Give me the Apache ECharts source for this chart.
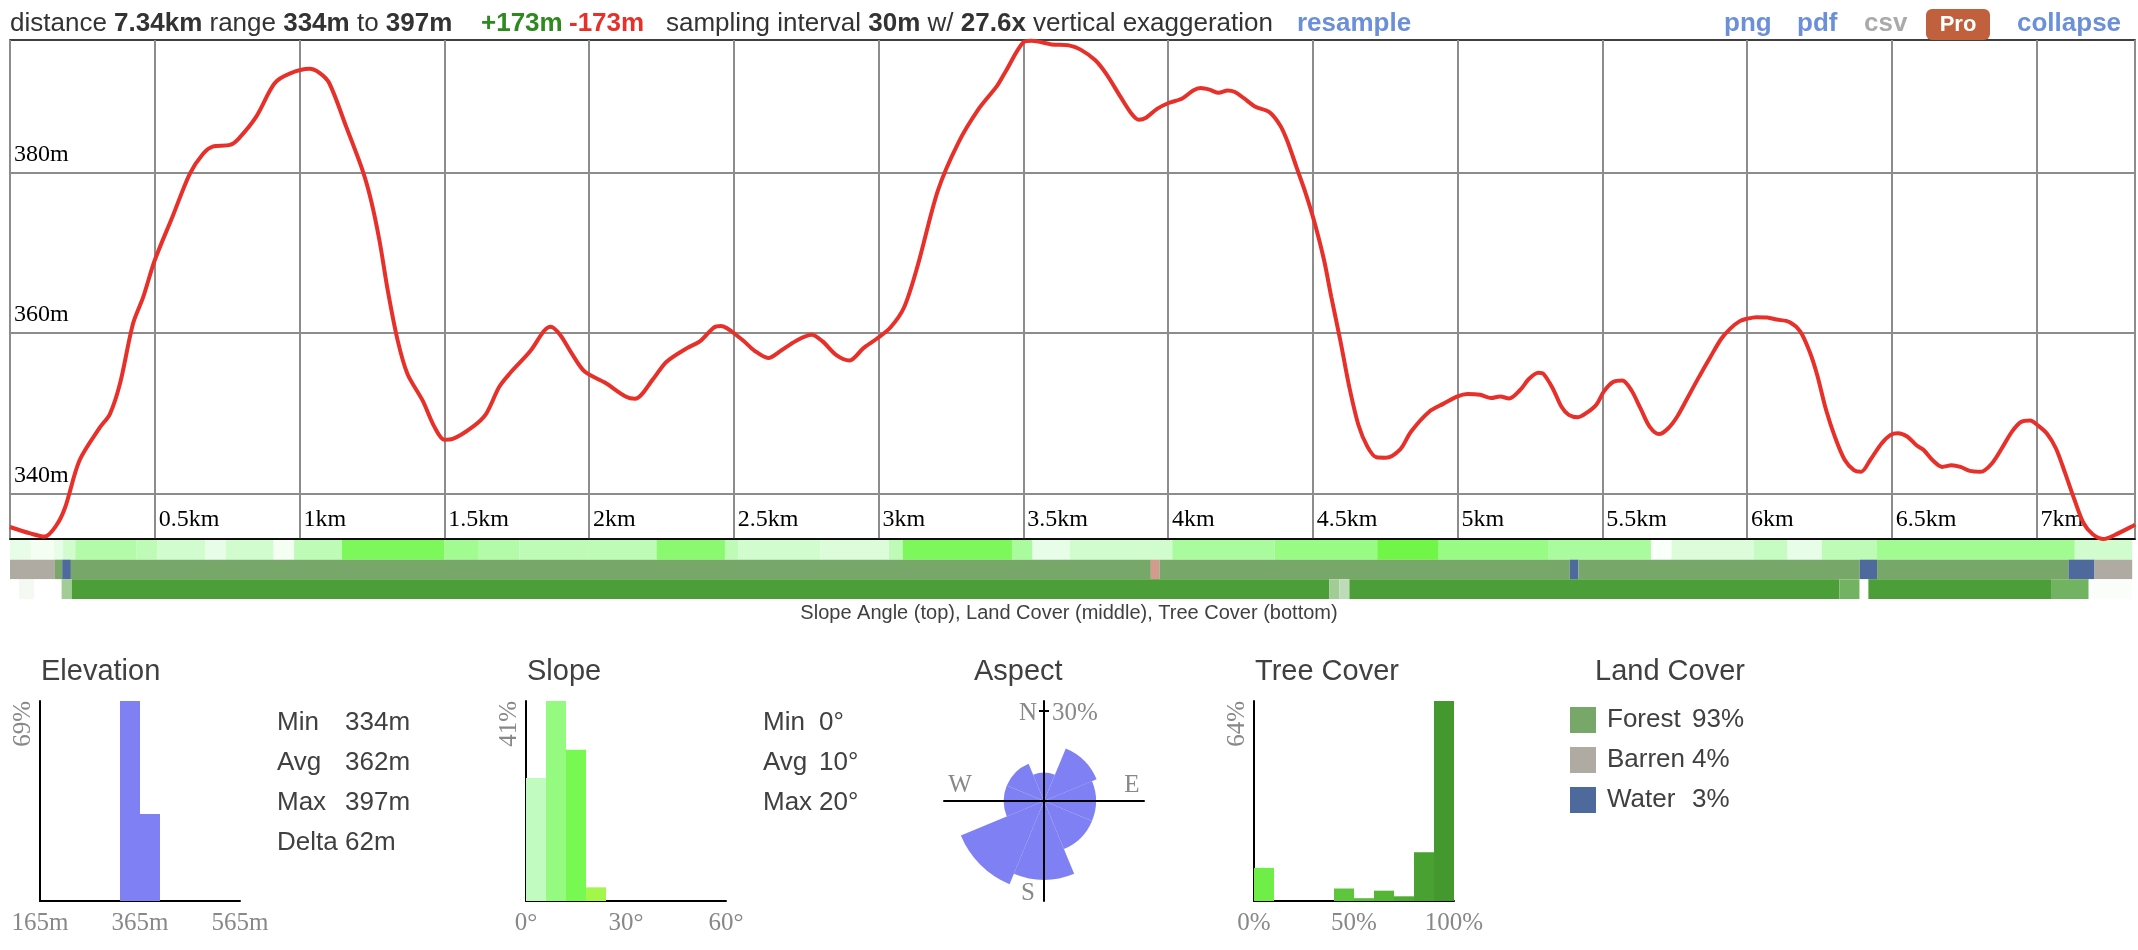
<!DOCTYPE html>
<html><head><meta charset="utf-8">
<script src="https://cdn.jsdelivr.net/npm/echarts@6/dist/echarts.min.js"></script>
<style>html,body{margin:0;padding:0;background:#fff}#c{width:2138px;height:950px}</style>
</head><body><div id="c"></div>
<script>
// ---------------- DATA ----------------
const profileKm = [0.00,0.07,0.12,0.16,0.19,0.24,0.31,0.345,0.38,0.425,0.46,0.50,0.563,0.621,0.667,0.70,0.76,0.79,0.85,0.914,0.966,1.034,1.069,1.103,1.161,1.218,1.247,1.276,1.305,1.339,1.373,1.425,1.466,1.50,1.529,1.598,1.644,1.69,1.727,1.798,1.845,1.868,1.90,1.938,1.985,2.056,2.126,2.159,2.22,2.267,2.337,2.384,2.431,2.455,2.525,2.572,2.619,2.666,2.713,2.769,2.806,2.853,2.90,2.947,2.994,3.041,3.088,3.135,3.205,3.276,3.346,
  3.41,3.441,3.5,3.529,3.598,3.661,3.698,3.748,3.786,3.836,3.874,3.899,3.924,3.962,4.0,4.049,4.087,4.112,4.143,4.175,4.206,4.231,4.263,4.3,4.35,4.388,4.413,4.444,4.476,4.507,4.539,4.564,4.595,4.626,4.658,4.689,4.72,4.752,4.802,4.839,4.902,4.952,5.0,5.034,5.078,5.116,5.147,5.178,5.216,5.247,5.279,5.297,5.329,5.359,5.384,5.416,5.448,5.48,5.505,5.537,5.569,5.6,5.632,5.664,5.696,5.727,5.759,5.797,5.835,5.873,5.911,5.943,5.975,6.0,6.032,6.07,6.102,6.146,6.184,6.216,6.242,6.273,6.305,6.337,6.369,6.394,6.426,6.464,6.496,6.521,6.553,6.585,6.61,6.642,6.674,6.706,6.737,6.769,6.807,6.845,6.883,6.915,6.946,6.978,7.004,7.035,7.067,7.099,7.131,7.162,7.194,7.232,7.27,7.331,7.34];
const profileElev = [335.8,335.0,334.6,336.0,338.2,344.1,348.2,349.9,353.7,361.2,364.5,369.1,374.7,379.9,382.4,383.3,383.5,384.3,387.0,391.2,392.4,393.0,392.5,391.2,385.8,380.3,376.6,371.6,365.3,359.1,354.9,351.6,348.3,346.7,346.8,348.3,349.9,353.3,355.0,357.8,360.3,360.8,359.8,357.6,355.2,353.8,352.1,351.8,354.2,356.4,358.1,359.0,360.7,360.9,359.3,357.8,356.9,357.9,359.0,359.8,359.0,357.3,356.6,358.1,359.3,360.7,363.2,368.4,377.8,383.8,388.0,
  390.9,392.8,396.3,396.5,396.05,395.9,395.4,394.1,392.4,389.5,387.4,386.65,386.9,388.0,388.7,389.3,390.3,390.6,390.4,390.0,390.3,390.1,389.3,388.3,387.6,385.9,383.9,380.7,377.4,373.7,369.1,364.5,359.1,353.3,348.5,345.8,344.5,344.45,345.5,347.7,350.2,351.2,352.1,352.4,352.3,351.9,352.1,351.85,352.9,354.3,355.05,354.9,353.1,350.8,349.8,349.5,350.1,351.1,352.7,353.9,354.1,352.9,350.6,348.3,347.4,348.1,349.6,352.1,354.6,357.0,359.3,360.6,361.5,361.8,362.0,361.95,361.7,361.4,360.2,357.7,354.8,350.4,346.9,344.2,342.9,342.7,344.2,346.2,347.3,347.5,347.1,346.0,345.4,344.1,343.3,343.5,343.3,342.8,342.7,343.7,345.8,347.7,348.9,349.1,348.5,347.5,345.6,342.5,339.2,336.3,334.9,334.3,334.8,335.9,336.1];
const elevGridLines = [340, 360, 380];

// strips: breakpoints (km) and value per interval
const slopeBreaks = [0,0.072,0.15,0.183,0.225,0.437,0.508,0.673,0.744,0.909,0.98,1.145,1.499,1.617,1.758,1.994,2.23,2.466,2.513,2.796,3.032,3.079,3.456,3.527,3.655,4.009,4.362,4.716,4.928,5.305,5.66,5.731,6.014,6.131,6.249,6.438,7.122,7.32];
const slopeDeg    = [2,1,2,4,7,6,4,2,4,1,6,14,9,7,6,6,12,6,4,3,6,14,8,2,4,8,10,16,10,8,0.5,3,5,2,6,9,4];
const treeBreaks = [0,0.031,0.083,0.178,0.213,4.55,4.585,4.62,6.31,6.38,6.41,7.04,7.17,7.32];
const treePct    = [0,6,0,50,95,50,35,95,75,0,95,75,2];
const landBreaks = [0,0.155,0.18,0.21,3.935,3.965,5.38,5.41,6.38,6.44,7.10,7.19,7.32];
const landClass  = ['Barren','Forest','Water','Forest','Other','Forest','Water','Forest','Water','Forest','Water','Barren'];

// histograms
const elevBinLo = [325, 365];
const elevBinHi = [365, 405];
const elevBinPct = [69, 30];
const elevAxis = [165, 365, 565];
const slopeBinLo = [0, 6, 12, 18];
const slopeBinHi = [6, 12, 18, 24];
const slopeBinPct = [25.2, 41, 31, 2.8];
const slopeAxis = [0, 30, 60];
const treeBinLo = [0, 40, 50, 60, 70, 80, 90];
const treeBinHi = [10, 50, 60, 70, 80, 90, 100];
const treeBinPct = [10.6, 4.0, 0.9, 3.3, 1.5, 15.6, 64];
const treeAxis = [0, 50, 100];

const aspectDirs = ['N','NE','E','SE','S','SW','W','NW'];
const aspectPct  = [3, 12, 10, 10, 23, 30, 6, 6];
const aspectRefPct = 30;

const landNames = ['Forest','Barren','Water'];
const landPct   = [93, 4, 3];

const elevStatNames = ['Min','Avg','Max','Delta'];
const elevStatVals  = ['334m','362m','397m','62m'];
const slopeStatNames = ['Min','Avg','Max'];
const slopeStatVals  = ['0°','10°','20°'];

// ---------------- STYLE ----------------
const SANS = '"Liberation Sans", Arial, Helvetica, sans-serif';
const SERIF = '"Liberation Serif", "Times New Roman", serif';
const TXT = '#404040';
const landColors = {Forest:'#78a76a', Barren:'#afaba3', Water:'#4e6a9c', Other:'#d29b8b'};
const slopeBinColors = ['#c2fbc0','#94fb80','#78f952','#a2f74a'];
const treeBinColors = ['#70ee48','#5ec63c','#5abd39','#55b636','#4fac33','#48a130','#43992d'];
const roseColor = '#8080f5';

function mix(c1, c2, t) {
  const a = parseInt(c1.slice(1),16), b = parseInt(c2.slice(1),16);
  const r = Math.round(((a>>16)&255)*(1-t)+((b>>16)&255)*t);
  const g = Math.round(((a>>8)&255)*(1-t)+((b>>8)&255)*t);
  const bl = Math.round((a&255)*(1-t)+(b&255)*t);
  return 'rgb('+r+','+g+','+bl+')';
}
function slopeColor(d) {
  const stops = [[0,'#ffffff'],[5,'#c6fbc2'],[10,'#98fb84'],[16,'#70f646'],[30,'#60e030']];
  for (let i=1;i<stops.length;i++) if (d<=stops[i][0]) {
    return mix(stops[i-1][1], stops[i][1], (d-stops[i-1][0])/(stops[i][0]-stops[i-1][0]));
  }
  return stops[stops.length-1][1];
}
function treeColor(p) { return mix('#ffffff', '#43992d', p/100); }

// ---------------- BUILD ----------------
const stripData = [];
for (let i=0;i<slopeDeg.length;i++) stripData.push({value:[0, slopeBreaks[i], slopeBreaks[i+1]], itemStyle:{color: slopeColor(slopeDeg[i])}});
for (let i=0;i<landClass.length;i++) stripData.push({value:[1, landBreaks[i], landBreaks[i+1]], itemStyle:{color: landColors[landClass[i]]}});
for (let i=0;i<treePct.length;i++) stripData.push({value:[2, treeBreaks[i], treeBreaks[i+1]], itemStyle:{color: treeColor(treePct[i])}});

function histData(lo, hi, pct, colors) {
  return lo.map((l,i)=>({value:[l, hi[i], pct[i]], itemStyle:{color: Array.isArray(colors)?colors[i]:colors}}));
}
function histRender(offset) {
  return function(params, api) {
    const p0 = api.coord([api.value(0)-offset, api.value(2)]);
    const p1 = api.coord([api.value(1)-offset, 0]);
    return {type:'rect', shape:{x:p0[0], y:p0[1], width:p1[0]-p0[0], height:p1[1]-p0[1]}, style: api.style()};
  };
}

const histGrids = [
  {left:40, top:701, width:200, height:200},
  {left:526, top:701, width:200, height:200},
  {left:1254, top:701, width:200, height:200}
];
function histX(gridIndex, axisVals, unit) {
  const off = axisVals[0];
  return {type:'value', gridIndex, min:0, max:axisVals[2]-off, interval:axisVals[1]-off,
    axisLine:{show:true, onZero:false, lineStyle:{color:'#000', width:2}}, axisTick:{show:false}, splitLine:{show:false},
    axisLabel:{show:true, margin:10, color:'#888', fontFamily:SERIF, fontSize:25, formatter:v=>(v+off)+unit}};
}
function histY(gridIndex, maxPct) {
  return {type:'value', gridIndex, min:0, max:maxPct, interval:maxPct,
    axisLine:{show:true, lineStyle:{color:'#000', width:2}}, axisTick:{show:false}, splitLine:{show:false},
    axisLabel:{show:true, rotate:90, margin:4, align:'right', verticalAlign:'bottom', color:'#888', fontFamily:SERIF, fontSize:25,
      formatter:v=> v===maxPct ? (v+'%') : ''}};
}

const graphics = [];
function T(x, y, text, style) {
  graphics.push({type:'text', x, y, silent:true, style:Object.assign({text, fill:TXT, font:'26px '+SANS, align:'left', verticalAlign:'middle'}, style||{})});
}
// header
const hdrRich = {n:{fill:'#333', font:'26px '+SANS}, b:{fill:'#333', font:'bold 26px '+SANS}};
T(10, 24, '{n|distance }{b|7.34km}{n| range }{b|334m}{n| to }{b|397m}', {rich:hdrRich});
T(481, 24, '+173m', {fill:'#2e8a1f', font:'bold 26px '+SANS});
T(569, 24, '-173m', {fill:'#e8302a', font:'bold 26px '+SANS});
T(666, 24, '{n|sampling interval }{b|30m}{n| w/ }{b|27.6x}{n| vertical exaggeration}', {rich:hdrRich});
T(1297, 24, 'resample', {fill:'#6b8fd9', font:'bold 26px '+SANS});
T(1724, 24, 'png', {fill:'#6b8fd9', font:'bold 26px '+SANS});
T(1797, 24, 'pdf', {fill:'#6b8fd9', font:'bold 26px '+SANS});
T(1864, 24, 'csv', {fill:'#aaaaaa', font:'bold 26px '+SANS});
graphics.push({type:'rect', silent:true, shape:{x:1926, y:9, width:64, height:31, r:6}, style:{fill:'#c0603c'}});
T(1958, 25, 'Pro', {fill:'#fff', font:'bold 22px '+SANS, align:'center'});
T(2017, 24, 'collapse', {fill:'#6b8fd9', font:'bold 26px '+SANS});
// caption
T(1069, 613, 'Slope Angle (top), Land Cover (middle), Tree Cover (bottom)', {font:'20px '+SANS, align:'center'});
// panel titles
T(41, 672, 'Elevation', {font:'29px '+SANS});
T(527, 672, 'Slope', {font:'29px '+SANS});
T(974, 672, 'Aspect', {font:'29px '+SANS});
T(1255, 672, 'Tree Cover', {font:'29px '+SANS});
T(1595, 672, 'Land Cover', {font:'29px '+SANS});
// stats
elevStatNames.forEach((n,i)=>{ T(277, 723+40*i, n); T(345, 723+40*i, elevStatVals[i]); });
slopeStatNames.forEach((n,i)=>{ T(763, 723+40*i, n); T(819, 723+40*i, slopeStatVals[i]); });
// land legend
landNames.forEach((n,i)=>{
  graphics.push({type:'rect', silent:true, shape:{x:1570, y:707+40*i, width:26, height:26}, style:{fill:landColors[n]}});
  T(1607, 720+40*i, n); T(1692, 720+40*i, landPct[i]+'%');
});
// aspect labels
const AC = [1044, 801], AR = 100;
const refR = AR*0.9;
graphics.push({type:'line', silent:true, z:20, shape:{x1:AC[0]-5, y1:AC[1]-refR, x2:AC[0]+5, y2:AC[1]-refR}, style:{stroke:'#000', lineWidth:2}});
T(AC[0]-7, AC[1]-refR+2, 'N', {fill:'#888', font:'25px '+SERIF, align:'right'});
T(AC[0]+8, AC[1]-refR+2, aspectRefPct+'%', {fill:'#888', font:'25px '+SERIF});
T(AC[0]-84, AC[1]-16, 'W', {fill:'#888', font:'25px '+SERIF, align:'center'});
T(AC[0]+88, AC[1]-16, 'E', {fill:'#888', font:'25px '+SERIF, align:'center'});
T(AC[0]-16, AC[1]+92, 'S', {fill:'#888', font:'25px '+SERIF, align:'center'});

const GRIDC = '#8c8c8c';
const option = {
  animation:false,
  backgroundColor:'#fff',
  graphic: graphics,
  grid: [
    {left:10, right:-2, top:40, height:499, show:true, borderColor:'#000', borderWidth:1.5, backgroundColor:'transparent'},
    {left:10, right:-2, top:540, height:59},
    histGrids[0], histGrids[1], histGrids[2],
    {left:AC[0]-AR, top:AC[1]-AR, width:2*AR, height:2*AR, z:10}
  ],
  polar: {center: AC, radius: AR},
  angleAxis: {type:'category', data: aspectDirs, startAngle: 112.5, clockwise:true, boundaryGap:true,
    axisLine:{show:false}, axisTick:{show:false}, axisLabel:{show:false}, splitLine:{show:false}},
  radiusAxis: {type:'value', min:0, max: Math.sqrt(aspectRefPct)/0.9, axisLine:{show:false}, axisTick:{show:false}, axisLabel:{show:false}, splitLine:{show:false}},
  xAxis: [
    {type:'value', gridIndex:0, min:0, max:7.34, interval:0.5,
      axisLine:{show:true, onZero:false, lineStyle:{color:'#000', width:1.5}}, axisTick:{show:false},
      splitLine:{show:true, lineStyle:{color:GRIDC, width:2}},
      axisLabel:{inside:true, margin:7, align:'left', padding:[0,0,0,4], color:'#000', fontFamily:SERIF, fontSize:24,
        formatter:v=> (v<=0 || v>7.3) ? '' : (v+'km')}},
    {type:'value', gridIndex:1, min:0, max:7.34, show:false},
    histX(2, elevAxis, 'm'),
    histX(3, slopeAxis, '°'),
    histX(4, treeAxis, '%'),
    {type:'value', gridIndex:5, min:-1, max:1, axisLine:{show:true, onZero:true, lineStyle:{color:'#000', width:2}}, axisTick:{show:false}, axisLabel:{show:false}, splitLine:{show:false}, z:20}
  ],
  yAxis: [
    {type:'value', gridIndex:0, min:334.3, max:396.6, axisLine:{show:false}, axisTick:{show:false}, axisLabel:{show:false}, splitLine:{show:false}},
    {type:'value', gridIndex:1, min:0, max:3, inverse:true, show:false},
    histY(2, Math.max(...elevBinPct)),
    histY(3, Math.max(...slopeBinPct)),
    histY(4, Math.max(...treeBinPct)),
    {type:'value', gridIndex:5, min:-1, max:1, axisLine:{show:true, onZero:true, lineStyle:{color:'#000', width:2}}, axisTick:{show:false}, axisLabel:{show:false}, splitLine:{show:false}, z:20}
  ],
  series: [
    {type:'line', xAxisIndex:0, yAxisIndex:0, data:[], z:1, silent:true,
      markLine:{silent:true, symbol:'none', lineStyle:{color:GRIDC, width:2, type:'solid'},
        label:{position:'insideStartTop', distance:[4,6], color:'#000', fontFamily:SERIF, fontSize:24, formatter:p=>p.value+'m'},
        data: elevGridLines.map(v=>({yAxis:v}))}},
    {type:'line', xAxisIndex:0, yAxisIndex:0, z:5, showSymbol:false, smooth:0.3, silent:true,
      lineStyle:{color:'#e8302a', width:4}, data: profileKm.map((k,i)=>[k, profileElev[i]])},
    {type:'custom', xAxisIndex:1, yAxisIndex:1, silent:true, data: stripData,
      renderItem:(params, api)=>{
        const r = api.value(0);
        const p0 = api.coord([api.value(1), r]);
        const p1 = api.coord([api.value(2), r+1]);
        return {type:'rect', shape:{x:p0[0], y:p0[1], width:p1[0]-p0[0], height:p1[1]-p0[1]}, style: api.style()};
      }},
    {type:'custom', xAxisIndex:2, yAxisIndex:2, silent:true, renderItem: histRender(elevAxis[0]), data: histData(elevBinLo, elevBinHi, elevBinPct, roseColor)},
    {type:'custom', xAxisIndex:3, yAxisIndex:3, silent:true, renderItem: histRender(slopeAxis[0]), data: histData(slopeBinLo, slopeBinHi, slopeBinPct, slopeBinColors)},
    {type:'custom', xAxisIndex:4, yAxisIndex:4, silent:true, renderItem: histRender(treeAxis[0]), data: histData(treeBinLo, treeBinHi, treeBinPct, treeBinColors)},
    {type:'bar', coordinateSystem:'polar', silent:true, barCategoryGap:'0%', itemStyle:{color:roseColor},
      data: aspectPct.map(p=>Math.sqrt(p)), z:2}
  ]
};
const chart = echarts.init(document.getElementById('c'), null, {renderer:'canvas'});
chart.setOption(option);
</script></body></html>
